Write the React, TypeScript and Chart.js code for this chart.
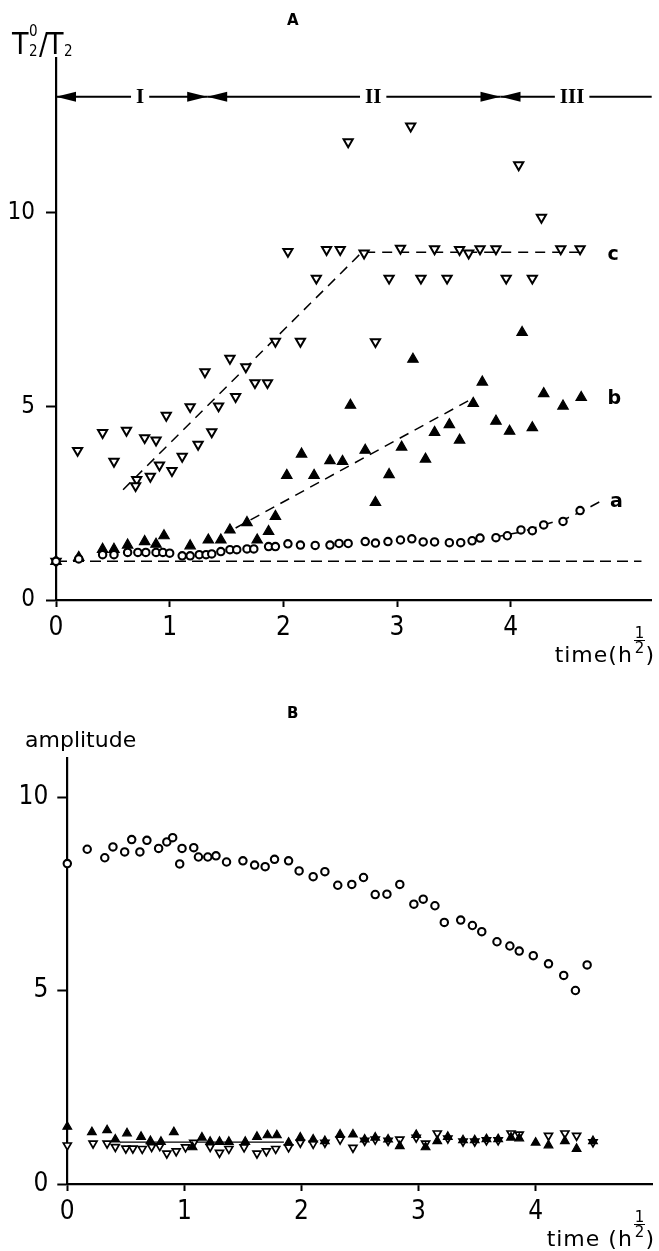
import React, { useEffect, useRef } from 'react';
import { Chart, registerables } from 'chart.js';

Chart.register(...registerables);

// ---------------- data ----------------
const xTicks = [0, 1, 2, 3, 4];
const yTicks = [0, 5, 10];

// Panel A — curve a (open circles)
const aX = [0, 0.20, 0.41, 0.51, 0.63, 0.72, 0.79, 0.88, 0.94, 1.00, 1.11, 1.18, 1.26, 1.32, 1.37, 1.45, 1.53, 1.59, 1.68, 1.74, 1.87, 1.93, 2.04, 2.15, 2.28, 2.41, 2.49, 2.57, 2.72, 2.81, 2.92, 3.03, 3.13, 3.23, 3.33, 3.46, 3.56, 3.66, 3.73, 3.87, 3.97, 4.09, 4.19, 4.29, 4.46, 4.61];
const aY = [1.0, 1.06, 1.17, 1.17, 1.23, 1.23, 1.23, 1.23, 1.23, 1.21, 1.14, 1.14, 1.17, 1.17, 1.19, 1.25, 1.30, 1.30, 1.32, 1.32, 1.38, 1.38, 1.45, 1.42, 1.41, 1.42, 1.46, 1.46, 1.51, 1.47, 1.51, 1.55, 1.58, 1.50, 1.50, 1.48, 1.48, 1.53, 1.60, 1.61, 1.66, 1.81, 1.79, 1.94, 2.03, 2.31];

// Panel A — curve b (filled triangles)
const bX = [0, 0.20, 0.41, 0.51, 0.63, 0.78, 0.88, 0.95, 1.18, 1.34, 1.45, 1.53, 1.68, 1.77, 1.87, 1.93, 2.03, 2.16, 2.27, 2.41, 2.52, 2.59, 2.72, 2.81, 2.93, 3.04, 3.14, 3.25, 3.33, 3.46, 3.55, 3.67, 3.75, 3.87, 3.99, 4.10, 4.19, 4.29, 4.46, 4.62];
const bY = [1.0, 1.1, 1.31, 1.31, 1.42, 1.51, 1.44, 1.66, 1.40, 1.55, 1.55, 1.81, 2.0, 1.55, 1.77, 2.16, 3.22, 3.77, 3.22, 3.60, 3.58, 5.03, 3.87, 2.52, 3.24, 3.95, 6.22, 3.64, 4.33, 4.53, 4.13, 5.08, 5.63, 4.62, 4.36, 6.91, 4.45, 5.33, 5.01, 5.23];

// Panel A — curve c (open inverted triangles)
const cX = [0, 0.19, 0.41, 0.51, 0.62, 0.71, 0.70, 0.78, 0.83, 0.88, 0.91, 0.97, 1.02, 1.11, 1.18, 1.25, 1.31, 1.37, 1.43, 1.53, 1.58, 1.67, 1.75, 1.86, 1.93, 2.04, 2.15, 2.29, 2.38, 2.50, 2.57, 2.71, 2.81, 2.93, 3.03, 3.12, 3.21, 3.33, 3.44, 3.55, 3.63, 3.73, 3.87, 3.96, 4.07, 4.19, 4.27, 4.44, 4.61];
const cY = [1.0, 3.86, 4.32, 3.58, 4.38, 3.11, 2.95, 4.19, 3.19, 4.13, 3.48, 4.77, 3.34, 3.71, 4.99, 4.02, 5.89, 4.34, 5.01, 6.24, 5.25, 6.02, 5.61, 5.61, 6.68, 9.0, 6.68, 8.31, 9.05, 9.05, 11.83, 8.96, 6.67, 8.31, 9.08, 12.24, 8.31, 9.07, 8.31, 9.05, 8.96, 9.07, 9.07, 8.31, 11.24, 8.31, 9.88, 9.07, 9.07];

// Panel A — dashed guide lines
const baseX = [0, 5.15];
const baseY = [1, 1];
const fitAX = [3.85, 4.1, 4.3, 4.5, 4.62, 4.79];
const fitAY = [1.62, 1.76, 1.95, 2.12, 2.28, 2.55];
const fitBX = [1.58, 3.66];
const fitBY = [1.86, 5.2];
const fitCX = [0.59, 2.69, 4.64];
const fitCY = [2.85, 8.98, 8.98];

// Panel A — curve labels
const curveNames = ['a', 'b', 'c'];
const curveLabelX = [4.93, 4.91, 4.90];
const curveLabelY = [2.52, 5.2, 8.92];

// Panel A — phases
const phaseNames = ['I', 'II', 'III'];
const phaseEdges = [0, 1.33, 3.91, 5.24];
const phaseLabelX = [0.74, 2.79, 4.54];
const phaseY = 13;

// Panel B — amplitude, open circles
const aBX = [0, 0.17, 0.32, 0.39, 0.49, 0.55, 0.62, 0.68, 0.78, 0.85, 0.90, 0.96, 0.98, 1.08, 1.12, 1.20, 1.27, 1.36, 1.50, 1.60, 1.69, 1.77, 1.89, 1.98, 2.10, 2.20, 2.31, 2.43, 2.53, 2.63, 2.73, 2.84, 2.96, 3.04, 3.14, 3.22, 3.36, 3.46, 3.54, 3.67, 3.78, 3.86, 3.98, 4.11, 4.24, 4.34, 4.44];
const aBY = [8.28, 8.65, 8.43, 8.71, 8.58, 8.90, 8.58, 8.88, 8.67, 8.84, 8.95, 8.27, 8.67, 8.69, 8.45, 8.45, 8.48, 8.32, 8.35, 8.24, 8.20, 8.39, 8.35, 8.09, 7.94, 8.07, 7.72, 7.74, 7.92, 7.48, 7.49, 7.74, 7.23, 7.36, 7.19, 6.76, 6.82, 6.68, 6.52, 6.26, 6.15, 6.02, 5.90, 5.69, 5.39, 5.00, 5.66];

// Panel B — filled triangles
const bBX = [0, 0.21, 0.34, 0.41, 0.51, 0.63, 0.71, 0.80, 0.91, 1.07, 1.15, 1.22, 1.30, 1.38, 1.52, 1.62, 1.71, 1.79, 1.89, 1.99, 2.10, 2.20, 2.33, 2.44, 2.54, 2.63, 2.74, 2.84, 2.98, 3.06, 3.16, 3.25, 3.38, 3.48, 3.58, 3.68, 3.79, 3.86, 4.00, 4.11, 4.25, 4.35, 4.49];
const bBY = [1.48, 1.34, 1.39, 1.15, 1.31, 1.22, 1.11, 1.09, 1.34, 0.95, 1.20, 1.09, 1.09, 1.09, 1.09, 1.22, 1.26, 1.26, 1.07, 1.20, 1.15, 1.11, 1.28, 1.28, 1.15, 1.20, 1.15, 0.98, 1.27, 0.95, 1.11, 1.22, 1.13, 1.13, 1.16, 1.16, 1.20, 1.18, 1.07, 1.00, 1.11, 0.91, 1.11];

// Panel B — open inverted triangles
const cBX = [0, 0.22, 0.34, 0.41, 0.50, 0.56, 0.64, 0.72, 0.79, 0.85, 0.93, 1.01, 1.08, 1.22, 1.30, 1.38, 1.51, 1.62, 1.70, 1.78, 1.89, 1.99, 2.10, 2.20, 2.33, 2.44, 2.54, 2.63, 2.74, 2.84, 2.98, 3.06, 3.16, 3.25, 3.38, 3.48, 3.58, 3.68, 3.79, 3.86, 4.11, 4.25, 4.35, 4.49];
const cBY = [1.00, 1.05, 1.05, 0.96, 0.92, 0.92, 0.91, 0.96, 0.98, 0.79, 0.85, 0.95, 1.07, 0.96, 0.81, 0.91, 0.95, 0.79, 0.85, 0.91, 0.95, 1.07, 1.04, 1.07, 1.15, 0.94, 1.12, 1.15, 1.12, 1.15, 1.20, 1.05, 1.31, 1.18, 1.10, 1.10, 1.13, 1.13, 1.31, 1.28, 1.25, 1.31, 1.25, 1.08];

// Panel B — solid guide line
const levelBX = [0.45, 1.85];
const levelBY = [1.08, 1.08];

// ---------------- helpers ----------------
const TICK_FONT = "'DejaVu Sans Condensed', 'DejaVu Sans', sans-serif";
const TEXT_FONT = "'DejaVu Sans', sans-serif";
const COND_FONT = "'DejaVu Sans Condensed', 'DejaVu Sans', sans-serif";
const SERIF_FONT = "'Liberation Serif', 'DejaVu Serif', serif";

const zip = (xs: number[], ys: number[]) => xs.map((x, i) => ({ x, y: ys[i] }));

const circles = (data: any, r: number) => ({
  data, pointStyle: 'circle', pointRadius: r, pointBorderWidth: 2.1,
  pointBackgroundColor: '#fff', pointBorderColor: '#000', showLine: false, order: 1, clip: false,
});
const filledTri = (data: any, r: number) => ({
  data, pointStyle: 'triangle', pointRadius: r, pointBorderWidth: 1.2,
  pointBackgroundColor: '#000', pointBorderColor: '#000', showLine: false, order: 2, clip: false,
});
const openTri = (data: any, r: number, bw: number) => ({
  data, pointStyle: 'triangle', pointRotation: 180, pointRadius: r, pointBorderWidth: bw,
  pointBackgroundColor: '#fff', pointBorderColor: '#000', showLine: false, order: 3, clip: false,
});
const guide = (data: any, dash: number[], w: number) => ({
  data, showLine: true, borderColor: '#000', borderWidth: w, borderDash: dash,
  pointRadius: 0, fill: false, tension: 0, order: 4, clip: false,
});

interface Layout {
  xMax: number; yMax: number; yAxisWidth: number; xAxisHeight: number;
  yFont: number; xFont: number; yPad: number; xPad: number;
}

function scales(p: Layout) {
  return {
    x: {
      type: 'linear', min: 0, max: p.xMax,
      afterBuildTicks: (s: any) => { s.ticks = xTicks.map((v) => ({ value: v })); },
      afterFit: (s: any) => { s.height = p.xAxisHeight; },
      grid: { display: true, drawOnChartArea: false, drawTicks: true, tickLength: 7, tickWidth: 2, tickColor: '#000' },
      border: { display: true, color: '#000', width: 2.2 },
      ticks: { color: '#000', font: { family: TICK_FONT, size: p.xFont }, padding: p.xPad, maxRotation: 0, autoSkip: false, callback: (v: any) => String(v) },
    },
    y: {
      type: 'linear', min: 0, max: p.yMax,
      afterBuildTicks: (s: any) => { s.ticks = yTicks.map((v) => ({ value: v })); },
      afterFit: (s: any) => { s.width = p.yAxisWidth; },
      grid: { display: true, drawOnChartArea: false, drawTicks: true, tickLength: 10, tickWidth: 2, tickColor: '#000' },
      border: { display: true, color: '#000', width: 2.2 },
      ticks: { color: '#000', font: { family: TICK_FONT, size: p.yFont }, padding: p.yPad, autoSkip: false, callback: (v: any) => String(v) },
    },
  };
}

const phasePlugin = {
  id: 'phases',
  afterDatasetsDraw(chart: any) {
    const { ctx, scales: { x, y } } = chart;
    const py = y.getPixelForValue(phaseY);
    ctx.save();
    ctx.strokeStyle = '#000';
    ctx.fillStyle = '#000';
    ctx.lineWidth = 2;
    ctx.font = `bold 21px ${SERIF_FONT}`;
    ctx.textAlign = 'center';
    ctx.textBaseline = 'middle';
    const head = (tip: number, dir: number) => {
      ctx.beginPath();
      ctx.moveTo(tip, py);
      ctx.lineTo(tip + dir * 20, py - 5);
      ctx.lineTo(tip + dir * 20, py + 5);
      ctx.closePath();
      ctx.fill();
    };
    phaseNames.forEach((name, i) => {
      const x0 = x.getPixelForValue(phaseEdges[i]);
      const x1 = x.getPixelForValue(phaseEdges[i + 1]);
      const lx = x.getPixelForValue(phaseLabelX[i]);
      const half = ctx.measureText(name).width / 2 + 5;
      ctx.beginPath();
      ctx.moveTo(x0, py); ctx.lineTo(lx - half, py);
      ctx.moveTo(lx + half, py); ctx.lineTo(x1, py);
      ctx.stroke();
      head(x0, 1);
      if (i < phaseNames.length - 1) head(x1, -1);
      ctx.fillText(name, lx, py + 1);
    });
    ctx.restore();
  },
};

const curveLabelPlugin = {
  id: 'curveLabels',
  afterDatasetsDraw(chart: any) {
    const { ctx, scales: { x, y } } = chart;
    ctx.save();
    ctx.fillStyle = '#000';
    ctx.font = `bold 19px ${TEXT_FONT}`;
    ctx.textAlign = 'center';
    ctx.textBaseline = 'middle';
    curveNames.forEach((n, i) => {
      ctx.fillText(n, x.getPixelForValue(curveLabelX[i]), y.getPixelForValue(curveLabelY[i]));
    });
    ctx.restore();
  },
};

function configA(): any {
  const layout: Layout = { xMax: 5.24, yMax: 14, yAxisWidth: 56, xAxisHeight: 80, yFont: 24, xFont: 26, yPad: 11, xPad: 6 };
  return {
    type: 'scatter',
    data: {
      datasets: [
        circles(zip(aX, aY), 3.7),
        filledTri(zip(bX, bY), 6.0),
        openTri(zip(cX, cY), 5.3, 2),
        guide(zip(baseX, baseY), [11, 6], 1.6),
        guide(zip(fitAX, fitAY), [10, 7], 1.5),
        guide(zip(fitBX, fitBY), [10, 7], 1.5),
        guide(zip(fitCX, fitCY), [10, 7], 1.5),
      ],
    },
    options: {
      responsive: false, animation: false, devicePixelRatio: 1, events: [],
      layout: { padding: { top: 58, right: 2.5, left: 0, bottom: 0 } },
      plugins: { legend: { display: false }, tooltip: { enabled: false } },
      scales: scales(layout),
    },
    plugins: [phasePlugin, curveLabelPlugin],
  };
}

function configB(): any {
  const layout: Layout = { xMax: 5.0, yMax: 11, yAxisWidth: 67.3, xAxisHeight: 67, yFont: 26, xFont: 26, yPad: 9, xPad: 6 };
  return {
    type: 'scatter',
    data: {
      datasets: [
        circles(zip(aBX, aBY), 3.7),
        filledTri(zip(bBX, bBY), 5.0),
        openTri(zip(cBX, cBY), 4.6, 1.7),
        guide(zip(levelBX, levelBY), [], 1.3),
      ],
    },
    options: {
      responsive: false, animation: false, devicePixelRatio: 1, events: [],
      layout: { padding: { top: 68.3, right: 5.7, left: 0, bottom: 0 } },
      plugins: { legend: { display: false }, tooltip: { enabled: false } },
      scales: scales(layout),
    },
  };
}

function ChartCanvas({ make, top, height }: { make: () => any; top: number; height: number }) {
  const ref = useRef<HTMLCanvasElement>(null);
  useEffect(() => {
    const chart = new Chart(ref.current as HTMLCanvasElement, make());
    return () => chart.destroy();
  }, []);
  return (
    <canvas
      ref={ref}
      width={659}
      height={height}
      style={{ position: 'absolute', left: 0, top, width: 659, height }}
    />
  );
}

function abs(left: number, top: number, size: number, family: string, extra: any = {}) {
  return { position: 'absolute' as const, left, top, fontSize: size, lineHeight: `${size}px`, fontFamily: family, color: '#000', whiteSpace: 'nowrap' as const, ...extra };
}

function TimeLabel({ top, gap }: { top: number; gap: boolean }) {
  return (
    <div style={{ position: 'absolute', top, right: 5, height: 38, display: 'flex', alignItems: 'flex-end', fontFamily: TEXT_FONT, fontSize: 22, color: '#000', whiteSpace: 'nowrap' }}>
      <span style={{ lineHeight: '22px', letterSpacing: '1px' }}>{gap ? 'time (h' : 'time(h'}</span>
      <span style={{ display: 'inline-flex', flexDirection: 'column', alignItems: 'center', fontSize: 15, lineHeight: '14px', marginBottom: 11, marginLeft: 1 }}>
        <span style={{ borderBottom: '1.5px solid #000', padding: '0 1px' }}>1</span>
        <span>2</span>
      </span>
      <span style={{ lineHeight: '22px' }}>)</span>
    </div>
  );
}

export default function App() {
  return (
    <div style={{ position: 'absolute', left: 0, top: 0, width: 659, height: 1251, background: '#fff', overflow: 'hidden' }}>
      <ChartCanvas make={configA} top={0} height={680} />
      <ChartCanvas make={configB} top={690} height={561} />

      {/* Panel A texts */}
      <div style={abs(287, 13, 15, TEXT_FONT, { fontWeight: 'bold' })}>A</div>
      <div style={abs(12, 29, 30, COND_FONT)}>T</div>
      <div style={abs(29, 44, 15, COND_FONT)}>2</div>
      <div style={abs(29, 24, 15, COND_FONT)}>0</div>
      <div style={abs(39, 29, 30, COND_FONT)}>/</div>
      <div style={abs(47, 29, 30, COND_FONT)}>T</div>
      <div style={abs(64, 44, 15, COND_FONT)}>2</div>
      <TimeLabel top={628} gap={false} />

      {/* Panel B texts */}
      <div style={abs(287, 706, 15, TEXT_FONT, { fontWeight: 'bold' })}>B</div>
      <div style={abs(25, 729, 22, TEXT_FONT)}>amplitude</div>
      <TimeLabel top={1212} gap={true} />
    </div>
  );
}
